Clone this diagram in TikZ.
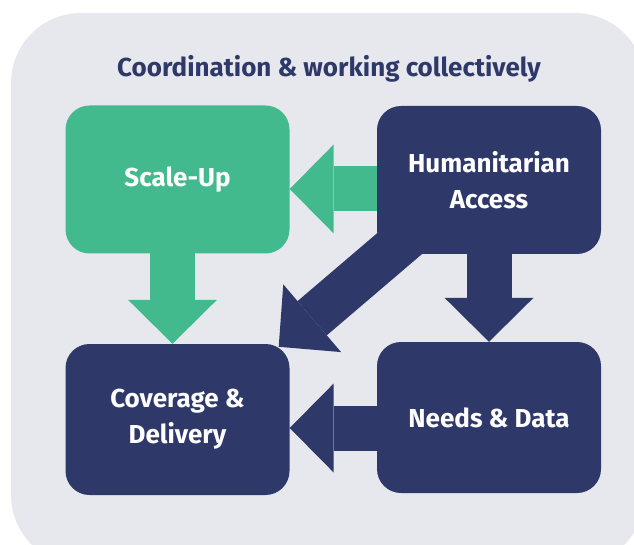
\documentclass[tikz,border=0pt]{standalone}
\usepackage{fontspec}
\setmainfont{Fira Sans}
\usetikzlibrary{arrows.meta,calc}
\definecolor{bggrey}{HTML}{E7E8ED}
\definecolor{navy}{HTML}{2E3869}
\definecolor{mint}{HTML}{43BA8E}
\pgfdeclarelayer{back}
\pgfsetlayers{back,main}
\begin{document}
\begin{tikzpicture}[x=1pt,y=-1pt,
    box/.style={rectangle, rounded corners=24pt, minimum width=224pt, inner sep=0pt,
        text=white, align=center, font=\fontsize{26}{36}\selectfont\bfseries},
    bigarrow/.style={line width=45pt, -{Triangle[length=44pt,width=89pt,line width=0pt]}}]
    \useasboundingbox (0,0) rectangle (634,545);
    % the four boxes
    \node[box, fill=mint, minimum height=148pt] (scale) at (177.5,179.5) {Scale-Up};
    \node[box, fill=navy, minimum height=148pt] (hum) at (489,180) {Humanitarian\\Access};
    \node[box, fill=navy, minimum height=151pt] (cov) at (177.5,419.5) {Coverage \&\\Delivery};
    \node[box, fill=navy, minimum height=151pt] (needs) at (489,417.5) {Needs \& Data};
    \node[text=navy, anchor=base, font=\fontsize{26}{30}\selectfont\bfseries] (title) at (329,77)
        {Coordination \& working collectively};
    \begin{pgfonlayer}{back}
    \fill[bggrey, rounded corners=70pt] (11,13) rectangle (645,565);
    % arrows run under the boxes
    \draw[bigarrow, mint] ($(hum.center)+(0,9)$) coordinate (hs) -- (scale.east |- hs);
    \draw[bigarrow, mint] ($(scale.center)+(-5,0)$) coordinate (sc) -- (cov.north -| sc);
    \draw[bigarrow, navy] (hum.center) -- (needs.north);
    \draw[bigarrow, navy] ($(needs.center)+(0,10.5)$) coordinate (nd) -- (cov.east |- nd);
    \draw[bigarrow, navy] ($(hum.center)+(-43,24)$) -- ($(cov.north east)+(-11,3)$);
    \end{pgfonlayer}
\end{tikzpicture}
\end{document}
